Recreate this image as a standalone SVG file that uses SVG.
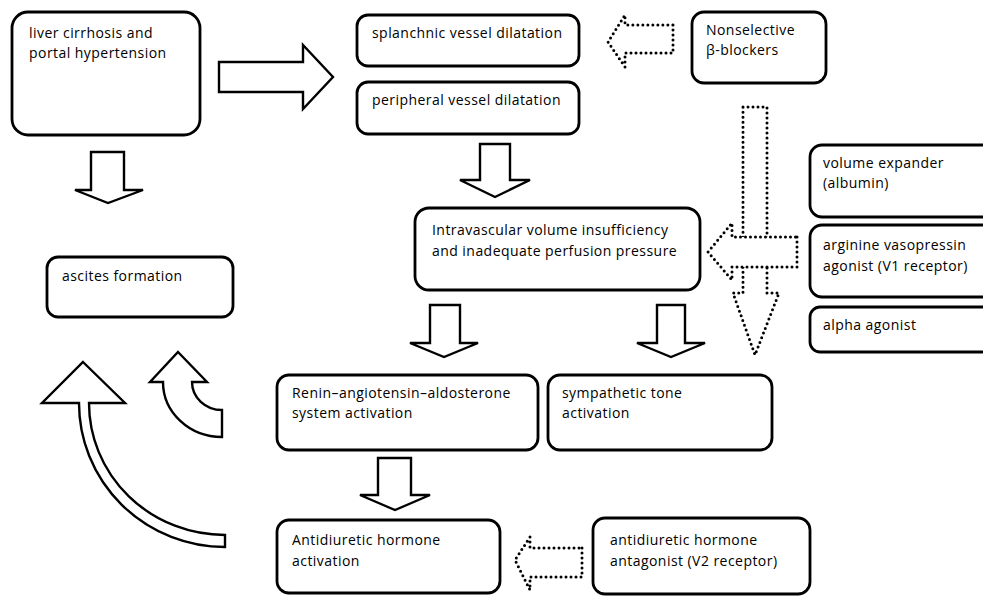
<svg xmlns="http://www.w3.org/2000/svg" width="983" height="597" viewBox="0 0 983 597">
<style>
.box{fill:#fff;stroke:#000;stroke-width:2.8}
.arr{fill:#fff;stroke:#000;stroke-width:2.4;stroke-linejoin:miter}
.dot{fill:#fff;stroke:#000;stroke-width:3;stroke-dasharray:0 5;stroke-linecap:round;stroke-linejoin:round}
text{font-family:"Open Sans","Noto Sans","Liberation Sans",sans-serif;font-size:14px;letter-spacing:0.45px;fill:#000}
</style>
<rect width="983" height="597" fill="#fff"/>
<g id="connectors">
<path class="arr" d="M219,62 H303 V45 L333,77 L303,109 V92 H219 Z"/>
<path class="arr" d="M91,152 H124 V190 H143 L108,203 L75,190 H91 Z"/>
<path class="arr" d="M480,144 H510 V180 H530 L495,197 L460,180 H480 Z"/>
<path class="arr" d="M430,305 H460 V343 H478 L444,357 L410,343 H430 Z"/>
<path class="arr" d="M657,305 H685 V343 H705 L671,357 L637,343 H657 Z"/>
<path class="arr" d="M378,458 H411 V495 H430 L395,510 L360,495 H378 Z"/>
<path class="arr" d="M178,352 L207,382 L192,382 A30,28 0 0 0 222,410 L222,437 A59,55 0 0 1 163,382 L150,382 Z"/>
<path class="arr" d="M83,362 L125,403 L89,403 A136,132 0 0 0 225,535 L225,547 A146,144 0 0 1 79,403 L42,403 Z"/>
<path class="dot" d="M673,25 V53 H625 V67 L608,42 L625,15 V25 Z"/>
<path class="dot" d="M743,107 H767 V293 H779 L755,355 L733,293 H743 Z"/>
<path class="dot" d="M797,237 V267 H732 V280 L708,252 L732,223 V237 Z"/>
<path class="dot" d="M582,548 V577 H530 V590 L515,560 L530,537 V548 Z"/>
</g>
<g id="n-liver"><rect class="box" x="12" y="12" width="188" height="123" rx="16"/><text x="29" y="38">liver cirrhosis and</text><text x="29" y="58">portal hypertension</text></g>
<g id="n-splanchnic"><rect class="box" x="357" y="15" width="222" height="51" rx="11"/><text x="372" y="38">splanchnic vessel dilatation</text></g>
<g id="n-peripheral"><rect class="box" x="357" y="82" width="222" height="52" rx="11"/><text x="372" y="105">peripheral vessel dilatation</text></g>
<g id="n-nsbb"><rect class="box" x="692" y="12" width="134" height="71" rx="12"/><text x="706" y="35">Nonselective</text><text x="706" y="55">β-blockers</text></g>
<g id="n-volume"><rect class="box" x="810" y="145" width="190" height="72" rx="12"/><text x="823" y="168">volume expander</text><text x="823" y="188">(albumin)</text></g>
<g id="n-avp"><rect class="box" x="810" y="225" width="190" height="72" rx="12"/><text x="823" y="250">arginine vasopressin</text><text x="823" y="271">agonist (V1 receptor)</text></g>
<g id="n-alpha"><rect class="box" x="810" y="307" width="190" height="45" rx="10"/><text x="823" y="330">alpha agonist</text></g>
<g id="n-intravascular"><rect class="box" x="415" y="208" width="285" height="82" rx="14"/><text x="432" y="235">Intravascular volume insufficiency</text><text x="432" y="256">and inadequate perfusion pressure</text></g>
<g id="n-ascites"><rect class="box" x="47" y="257" width="186" height="60" rx="11"/><text x="62" y="281">ascites formation</text></g>
<g id="n-raas"><rect class="box" x="277" y="375" width="261" height="75" rx="12"/><text x="292" y="398">Renin–angiotensin–aldosterone</text><text x="292" y="418">system activation</text></g>
<g id="n-sympathetic"><rect class="box" x="548" y="375" width="224" height="75" rx="12"/><text x="562" y="398">sympathetic tone</text><text x="562" y="418">activation</text></g>
<g id="n-adh"><rect class="box" x="277" y="520" width="223" height="73" rx="12"/><text x="292" y="545">Antidiuretic hormone</text><text x="292" y="566">activation</text></g>
<g id="n-antagonist"><rect class="box" x="593" y="518" width="217" height="76" rx="12"/><text x="610" y="545">antidiuretic hormone</text><text x="610" y="566">antagonist (V2 receptor)</text></g>
</svg>
